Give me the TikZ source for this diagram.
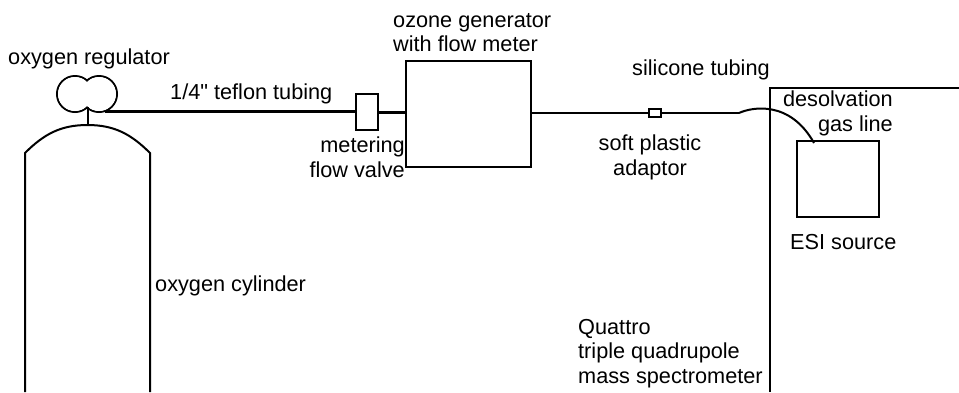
\documentclass[tikz,border=0pt]{standalone}
\usepackage{fontspec}
\setmainfont{Liberation Sans}
\newfontfamily\plainfont{Liberation Sans}
\usepackage{tikz}
\usetikzlibrary{positioning}

\begin{document}
\begin{tikzpicture}[
  x=1pt, y=-1pt,
  font=\fontsize{21.7}{24.8}\selectfont,
  box/.style={draw, line width=2pt, inner sep=0pt},
  lobe/.style={circle, draw, line width=2pt, inner sep=0pt, minimum size=36pt},
  lobefill/.style={circle, fill=white, inner sep=0pt, minimum size=34pt},
  lbl/.style={inner sep=0pt, anchor=west},
  outline/.style={line width=2pt},
  arr/.style={line width=3pt},
  thinarr/.style={line width=2pt}
]
\useasboundingbox (0,0) rectangle (959,392);
% cylinder and regulator
\draw[outline] (25,392) -- (25,153) to[out=45,in=180] (87.5,125) to[out=0,in=135] (150,153) -- (150,392);
\coordinate (cyltop) at (87.5,125);
\coordinate (regbase) at (87.5,107);
\coordinate (regout) at (105,111);
\node[lobe] (regl) at (75,94) {};
\node[lobe] (regr) at (99,94) {};
\node[lobefill] (regla) at (regl) {};
\node[lobefill] (regra) at (regr) {};
\draw[outline] (regbase) -- (cyltop);
% flow line
\node[box, minimum width=22pt, minimum height=36pt] (valve) at (367,112) {};
\node[box, minimum width=125pt, minimum height=106pt] (gen) at (468.5,114) {};
\node[box, minimum width=12pt, minimum height=8pt] (adaptor) at (654.5,113) {};
\coordinate (bend) at (739,113);
\coordinate (esiin) at (814,143);
\draw[arr] (regout) -- (regout -| valve.west);
\draw[arr] (valve.east) -- (valve.east -| gen.west);
\draw[thinarr] (gen.east |- adaptor) -- (adaptor.west);
\draw[thinarr] (adaptor.east) -- (bend);
\draw[thinarr] (bend) .. controls (752,107) and (790,100) .. (esiin);
% spectrometer
\draw[outline] (770,392) -- (770,88) -- (959,88);
\node[box, minimum width=82pt, minimum height=76pt] (esi) at (838,179) {};
% labels
\node[lbl] (reglbl) at (8,58.5) {oxygen regulator};
\node[lbl] (tube) at (170,94) {1/4{\plainfont "} teflon tubing};
\node[lbl, anchor=east, align=right] (vlbl) at (405,157) {metering\hspace{6pt}\\flow valve};
\node[lbl, align=left] (genlbl) at (393,32.5) {ozone generator\\with flow meter};
\node[lbl] (silbl) at (632,69.5) {silicone tubing};
\node[lbl, align=center, anchor=center] (adlbl) at (650,157) {soft plastic\\adaptor};
\node[lbl, anchor=east, align=right] (gaslbl) at (893,113.5) {desolvation\\gas line};
\node[lbl] (esilbl) at (790,242.5) {ESI source};
\node[lbl] (cyllbl) at (155,285.5) {oxygen cylinder};
\node[lbl, align=left] (qlbl) at (578,353.5) {Quattro\\triple quadrupole\\mass spectrometer};
\end{tikzpicture}
\end{document}
